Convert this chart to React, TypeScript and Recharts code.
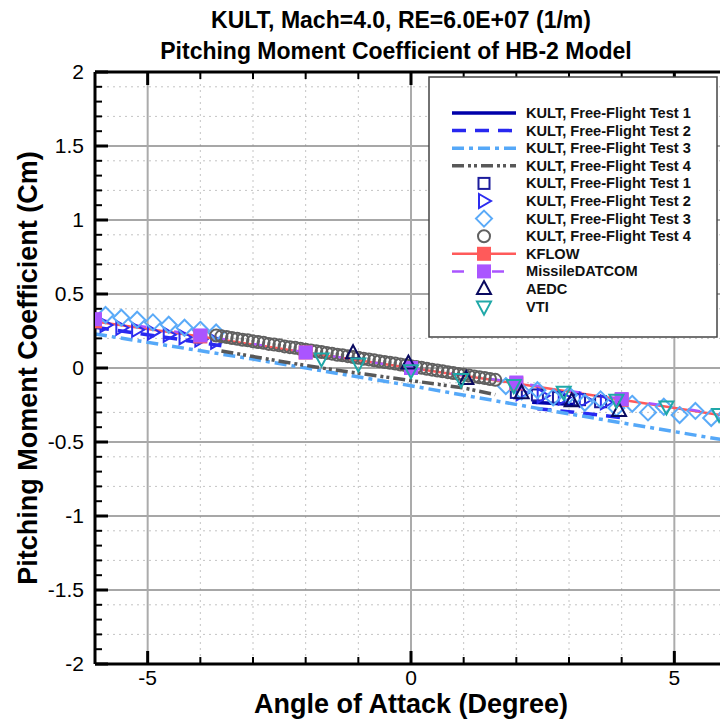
import {
  ComposedChart,
  Line,
  Scatter,
  XAxis,
  YAxis,
  CartesianGrid,
  ReferenceLine,
  Label,
} from "recharts";

type Pt = { x: number; y: number | null };

const FONT = '"Liberation Sans", Arial, Helvetica, sans-serif';

// axis ticks
const xTicks = [-5, 0, 5];
const yTicks = [-2, -1.5, -1, -0.5, 0, 0.5, 1, 1.5, 2];
const xAllTicks = [-6, -5, -4, -3, -2, -1, 0, 1, 2, 3, 4, 5, 6];
const yAllTicks: number[] = [];
for (let i = -20; i <= 20; i++) yAllTicks.push(i / 10);
const xMinor = xAllTicks.filter((v) => !xTicks.includes(v) && v > -6);
const yMinor = yAllTicks.filter((v) => Math.abs(v * 2 - Math.round(v * 2)) > 1e-6);

// free-flight fitted lines
const fft1: Pt[] = [
  { x: 2.3, y: -0.232 },
  { x: 3.1, y: -0.246 },
];
const fft2: Pt[] = [
  { x: -6.0, y: 0.275 },
  { x: -4.8, y: 0.215 },
  { x: -3.6, y: 0.15 },
  { x: 0, y: null },
  { x: 2.4, y: -0.275 },
  { x: 3.2, y: -0.303 },
  { x: 4.0, y: -0.335 },
];
const fft3: Pt[] = [
  { x: -6, y: 0.23 },
  { x: -3, y: 0.06 },
  { x: 0, y: -0.12 },
  { x: 3, y: -0.31 },
  { x: 6, y: -0.49 },
];
const fft4: Pt[] = [
  { x: -3.6, y: 0.115 },
  { x: -2.4, y: 0.04 },
  { x: -1.6, y: -0.005 },
  { x: 0, y: -0.085 },
  { x: 1.0, y: -0.135 },
  { x: 1.6, y: -0.18 },
];

// free-flight measured points
const test1: Pt[] = [
  { x: 2.0, y: -0.165 },
  { x: 2.4, y: -0.182 },
  { x: 2.8, y: -0.2 },
  { x: 3.2, y: -0.214 },
  { x: 3.6, y: -0.228 },
];
const test2: Pt[] = [
  { x: -5.8, y: 0.29 },
  { x: -5.5, y: 0.272 },
  { x: -5.2, y: 0.258 },
  { x: -4.9, y: 0.24 },
  { x: -4.6, y: 0.225 },
  { x: -4.3, y: 0.208 },
  { x: -4.0, y: 0.192 },
  { x: -3.7, y: 0.178 },
  { x: 2.1, y: -0.17 },
  { x: 2.5, y: -0.188 },
  { x: 2.9, y: -0.2 },
  { x: 3.3, y: -0.215 },
  { x: 3.7, y: -0.232 },
];
const test3: Pt[] = [
  { x: -5.8, y: 0.358 },
  { x: -5.5, y: 0.34 },
  { x: -5.2, y: 0.326 },
  { x: -4.9, y: 0.308 },
  { x: -4.6, y: 0.292 },
  { x: -4.3, y: 0.272 },
  { x: -4.0, y: 0.258 },
  { x: -3.7, y: 0.24 },
  { x: 1.8, y: -0.122 },
  { x: 2.1, y: -0.158 },
  { x: 2.4, y: -0.15 },
  { x: 2.7, y: -0.198 },
  { x: 3.0, y: -0.182 },
  { x: 3.3, y: -0.235 },
  { x: 3.6, y: -0.212 },
  { x: 3.9, y: -0.27 },
  { x: 4.2, y: -0.242 },
  { x: 4.5, y: -0.3 },
  { x: 4.8, y: -0.262 },
  { x: 5.1, y: -0.318 },
  { x: 5.4, y: -0.29 },
  { x: 5.7, y: -0.338 },
  { x: 6.0, y: -0.31 },
];
const test4: Pt[] = [
  { x: -3.7, y: 0.22 }, { x: -3.6, y: 0.214 }, { x: -3.5, y: 0.209 },
  { x: -3.4, y: 0.203 }, { x: -3.3, y: 0.198 }, { x: -3.2, y: 0.191 },
  { x: -3.1, y: 0.187 }, { x: -3.0, y: 0.18 }, { x: -2.9, y: 0.175 },
  { x: -2.8, y: 0.17 }, { x: -2.7, y: 0.163 }, { x: -2.6, y: 0.158 },
  { x: -2.5, y: 0.153 }, { x: -2.4, y: 0.146 }, { x: -2.3, y: 0.141 },
  { x: -2.2, y: 0.136 }, { x: -2.1, y: 0.13 }, { x: -2.0, y: 0.124 },
  { x: -1.9, y: 0.119 }, { x: -1.8, y: 0.113 }, { x: -1.7, y: 0.108 },
  { x: -1.6, y: 0.102 }, { x: -1.5, y: 0.097 }, { x: -1.4, y: 0.09 },
  { x: -1.3, y: 0.086 }, { x: -1.2, y: 0.08 }, { x: -1.1, y: 0.074 },
  { x: -1.0, y: 0.069 }, { x: -0.9, y: 0.063 }, { x: -0.8, y: 0.058 },
  { x: -0.7, y: 0.052 }, { x: -0.6, y: 0.046 }, { x: -0.5, y: 0.041 },
  { x: -0.4, y: 0.035 }, { x: -0.3, y: 0.03 }, { x: -0.2, y: 0.024 },
  { x: -0.1, y: 0.018 }, { x: 0.0, y: 0.012 }, { x: 0.1, y: 0.007 },
  { x: 0.2, y: 0.001 }, { x: 0.3, y: -0.005 }, { x: 0.4, y: -0.011 },
  { x: 0.5, y: -0.017 }, { x: 0.6, y: -0.022 }, { x: 0.7, y: -0.028 },
  { x: 0.8, y: -0.034 }, { x: 0.9, y: -0.04 }, { x: 1.0, y: -0.045 },
  { x: 1.1, y: -0.051 }, { x: 1.2, y: -0.057 }, { x: 1.3, y: -0.063 },
  { x: 1.4, y: -0.068 }, { x: 1.5, y: -0.074 }, { x: 1.6, y: -0.08 },
];

// CFD / semi-empirical / other facilities
const kflow: Pt[] = [
  { x: -6, y: 0.315 },
  { x: -4, y: 0.213 },
  { x: -2, y: 0.105 },
  { x: 0, y: 0.0 },
  { x: 2, y: -0.105 },
  { x: 4, y: -0.215 },
  { x: 6, y: -0.325 },
];
const datcom: Pt[] = [
  { x: -6, y: 0.33 },
  { x: -4, y: 0.22 },
  { x: -2, y: 0.105 },
  { x: 0, y: 0.0 },
  { x: 2, y: -0.098 },
  { x: 4, y: -0.21 },
  { x: 6, y: -0.32 },
];
const aedc: Pt[] = [
  { x: -1.1, y: 0.1 },
  { x: -0.05, y: 0.03 },
  { x: 1.05, y: -0.075 },
  { x: 2.1, y: -0.17 },
  { x: 3.05, y: -0.225 },
  { x: 3.95, y: -0.29 },
];
const vti: Pt[] = [
  { x: -1.7, y: 0.065 },
  { x: -1.0, y: 0.03 },
  { x: 0.0, y: -0.015 },
  { x: 0.95, y: -0.075 },
  { x: 1.95, y: -0.115 },
  { x: 2.9, y: -0.16 },
  { x: 3.9, y: -0.215 },
  { x: 4.85, y: -0.26 },
  { x: 5.85, y: -0.31 },
];

const C = {
  fft1: "#0000aa",
  fft2: "#2828f0",
  fft3: "#55a8f8",
  fft4: "#585858",
  sq: "#1c1c9c",
  tri: "#2c2cf0",
  dia: "#5aaaf8",
  cir: "#606060",
  kflow: "#ff5a5a",
  datcom: "#aa55ff",
  aedc: "#0a0a60",
  vti: "#20a8a8",
};

type Kind = "square" | "triRight" | "diamond" | "circle" | "squareFill" | "triUp" | "triDown";

function Marker({ kind, cx, cy, color }: { kind: Kind; cx: number; cy: number; color: string }) {
  if (cx == null || cy == null) return <g />;
  const sw = 2;
  switch (kind) {
    case "square":
      return <rect x={cx - 5.5} y={cy - 5.5} width={11} height={11} fill="none" stroke={color} strokeWidth={sw} />;
    case "squareFill":
      return <rect x={cx - 7} y={cy - 7} width={14} height={14} fill={color} stroke="none" />;
    case "triRight":
      return (
        <polygon
          points={`${cx - 5},${cy - 7} ${cx + 7},${cy} ${cx - 5},${cy + 7}`}
          fill="none"
          stroke={color}
          strokeWidth={sw}
        />
      );
    case "diamond":
      return (
        <polygon
          points={`${cx},${cy - 8} ${cx + 8},${cy} ${cx},${cy + 8} ${cx - 8},${cy}`}
          fill="none"
          stroke={color}
          strokeWidth={sw}
        />
      );
    case "circle":
      return <circle cx={cx} cy={cy} r={6} fill="none" stroke={color} strokeWidth={sw} />;
    case "triUp":
      return (
        <polygon
          points={`${cx},${cy - 8} ${cx + 7},${cy + 5} ${cx - 7},${cy + 5}`}
          fill="none"
          stroke={color}
          strokeWidth={sw}
        />
      );
    case "triDown":
      return (
        <polygon
          points={`${cx - 7},${cy - 5} ${cx + 7},${cy - 5} ${cx},${cy + 8}`}
          fill="none"
          stroke={color}
          strokeWidth={sw}
        />
      );
  }
  return <g />;
}

const legendItems: { name: string; color: string; dash?: string; width?: number; kind?: Kind; lineColor?: string }[] = [
  { name: "KULT, Free-Flight Test 1", color: C.fft1, width: 3.5 },
  { name: "KULT, Free-Flight Test 2", color: C.fft2, dash: "14 9", width: 3.5 },
  { name: "KULT, Free-Flight Test 3", color: C.fft3, dash: "12 5 4 5", width: 3.5 },
  { name: "KULT, Free-Flight Test 4", color: C.fft4, dash: "12 4 3 3 3 4", width: 3.5 },
  { name: "KULT, Free-Flight Test 1", color: C.sq, kind: "square" },
  { name: "KULT, Free-Flight Test 2", color: C.tri, kind: "triRight" },
  { name: "KULT, Free-Flight Test 3", color: C.dia, kind: "diamond" },
  { name: "KULT, Free-Flight Test 4", color: C.cir, kind: "circle" },
  { name: "KFLOW", color: C.kflow, kind: "squareFill", lineColor: C.kflow, width: 2.5 },
  { name: "MissileDATCOM", color: C.datcom, kind: "squareFill", lineColor: C.datcom, dash: "12 28", width: 2.5 },
  { name: "AEDC", color: C.aedc, kind: "triUp" },
  { name: "VTI", color: C.vti, kind: "triDown" },
];

function LegendBox() {
  return (
    <svg
      width={290}
      height={262}
      style={{ position: "absolute", left: 428, top: 76, overflow: "visible" }}
    >
      <rect x={1} y={1} width={288} height={260} fill="#fff" stroke="#444" strokeWidth={1.5} />
      {legendItems.map((it, i) => {
        const y = 37 + i * 17.6;
        return (
          <g key={i}>
            {it.kind == null && (
              <line x1={24} x2={88} y1={y} y2={y} stroke={it.color} strokeWidth={it.width} strokeDasharray={it.dash} />
            )}
            {it.kind != null && it.lineColor && (
              <line x1={24} x2={88} y1={y} y2={y} stroke={it.lineColor} strokeWidth={it.width} strokeDasharray={it.dash} />
            )}
            {it.kind != null && <Marker kind={it.kind} cx={56} cy={y} color={it.color} />}
            <text x={98} y={y + 5} fontFamily={FONT} fontWeight="bold" fontSize={14.6} fill="#111">
              {it.name}
            </text>
          </g>
        );
      })}
    </svg>
  );
}

const scatterSeries: { data: Pt[]; kind: Kind; color: string }[] = [
  { data: test1, kind: "square", color: C.sq },
  { data: test2, kind: "triRight", color: C.tri },
  { data: test3, kind: "diamond", color: C.dia },
  { data: test4, kind: "circle", color: C.cir },
];

export default function App() {
  const yTickLen = (v: number) => (Math.abs(v * 2 - Math.round(v * 2)) < 1e-6 ? 13 / 52.67 : 7 / 52.67);
  const xTickLen = (v: number) => (xTicks.includes(v) ? 13 / 148 : 7 / 148);
  return (
    <div
      style={{
        position: "fixed",
        left: 0,
        top: 0,
        width: 720,
        height: 724,
        overflow: "hidden",
        background: "#fff",
        fontFamily: FONT,
      }}
    >
      <svg width={720} height={70} style={{ position: "absolute", left: 0, top: 0 }}>
        <text x={401} y={28} textAnchor="middle" fontFamily={FONT} fontWeight="bold" fontSize={23} fill="#000">
          KULT, Mach=4.0, RE=6.0E+07 (1/m)
        </text>
        <text x={396} y={59} textAnchor="middle" fontFamily={FONT} fontWeight="bold" fontSize={23} fill="#000">
          Pitching Moment Coefficient of HB-2 Model
        </text>
      </svg>
      <div style={{ position: "absolute", left: 0, top: 0 }}>
        <ComposedChart width={730} height={724} margin={{ top: 72, right: 3, bottom: 0, left: 0 }}>
          <CartesianGrid
            horizontalValues={yMinor}
            verticalValues={xMinor}
            stroke="#c4c4c4"
            strokeDasharray="2 4"
            strokeWidth={1}
          />
          <CartesianGrid vertical={false} horizontalValues={yTicks} stroke="#8a8a8a" strokeWidth={1.5} />
          <CartesianGrid horizontal={false} verticalValues={xTicks} stroke="#ababab" strokeWidth={2} />
          <XAxis
            type="number"
            dataKey="x"
            domain={[-6, 6]}
            ticks={xTicks}
            allowDataOverflow
            height={60}
            tickLine={false}
            tickSize={0}
            tickMargin={6}
            axisLine={{ stroke: "#000", strokeWidth: 3 }}
            tick={{ fontSize: 21, fill: "#000", fontFamily: FONT }}
          >
            <Label
              content={({ viewBox }: any) => (
                <text
                  x={viewBox.x + viewBox.width / 2}
                  y={viewBox.y + 49}
                  textAnchor="middle"
                  fontFamily={FONT}
                  fontWeight="bold"
                  fontSize={27}
                  fill="#000"
                >
                  Angle of Attack (Degree)
                </text>
              )}
            />
          </XAxis>
          <YAxis
            type="number"
            dataKey="y"
            domain={[-2, 2]}
            ticks={yTicks}
            allowDataOverflow
            width={95}
            tickLine={false}
            tickSize={0}
            tickMargin={11}
            axisLine={{ stroke: "#000", strokeWidth: 3 }}
            tick={{ fontSize: 21, fill: "#000", fontFamily: FONT }}
          >
            <Label
              content={({ viewBox }: any) => {
                const cy = viewBox.y + viewBox.height / 2;
                return (
                  <text
                    x={37}
                    y={cy}
                    transform={`rotate(-90, 37, ${cy})`}
                    textAnchor="middle"
                    fontFamily={FONT}
                    fontWeight="bold"
                    fontSize={27}
                    fill="#000"
                  >
                    Pitching Moment Coefficient (Cm)
                  </text>
                );
              }}
            />
          </YAxis>

          <ReferenceLine y={2} stroke="#000" strokeWidth={3} />
          {yAllTicks.map((v) => (
            <ReferenceLine
              key={`yt${v}`}
              segment={[
                { x: -6, y: v },
                { x: -6 + yTickLen(v), y: v },
              ]}
              stroke="#000"
              strokeWidth={Math.abs(v * 2 - Math.round(v * 2)) < 1e-6 ? 3 : 2}
            />
          ))}
          {xAllTicks.map((v) => (
            <ReferenceLine
              key={`xb${v}`}
              segment={[
                { x: v, y: -2 },
                { x: v, y: -2 + xTickLen(v) },
              ]}
              stroke="#000"
              strokeWidth={xTicks.includes(v) ? 3 : 2}
            />
          ))}
          {xAllTicks.map((v) => (
            <ReferenceLine
              key={`xt${v}`}
              segment={[
                { x: v, y: 2 },
                { x: v, y: 2 - xTickLen(v) },
              ]}
              stroke="#000"
              strokeWidth={xTicks.includes(v) ? 3 : 2}
            />
          ))}

          <Line data={fft1} dataKey="y" stroke={C.fft1} strokeWidth={3.5} dot={false} activeDot={false} isAnimationActive={false} />
          <Line data={fft2} dataKey="y" stroke={C.fft2} strokeWidth={3.5} strokeDasharray="14 9" dot={false} activeDot={false} isAnimationActive={false} />
          <Line data={fft3} dataKey="y" stroke={C.fft3} strokeWidth={3.5} strokeDasharray="12 5 4 5" dot={false} activeDot={false} isAnimationActive={false} />
          <Line data={fft4} dataKey="y" stroke={C.fft4} strokeWidth={3.5} strokeDasharray="12 4 3 3 3 4" dot={false} activeDot={false} isAnimationActive={false} />

          {scatterSeries.map((s, i) => (
            <Scatter
              key={`sc${i}`}
              data={s.data}
              dataKey="y"
              isAnimationActive={false}
              shape={(p: any) => <Marker kind={s.kind} cx={p.cx} cy={p.cy} color={s.color} />}
            />
          ))}

          <Line
            data={kflow}
            dataKey="y"
            stroke={C.kflow}
            strokeWidth={2.5}
            dot={(p: any) => <Marker key={`kf${p.index}`} kind="squareFill" cx={p.cx} cy={p.cy} color={C.kflow} />}
            activeDot={false}
            isAnimationActive={false}
          />
          <Line
            data={datcom}
            dataKey="y"
            stroke={C.datcom}
            strokeWidth={2.5}
            strokeDasharray="12 28"
            dot={(p: any) => <Marker key={`dc${p.index}`} kind="squareFill" cx={p.cx} cy={p.cy} color={C.datcom} />}
            activeDot={false}
            isAnimationActive={false}
          />
          <Scatter
            data={aedc}
            dataKey="y"
            isAnimationActive={false}
            shape={(p: any) => <Marker kind="triUp" cx={p.cx} cy={p.cy} color={C.aedc} />}
          />
          <Scatter
            data={vti}
            dataKey="y"
            isAnimationActive={false}
            shape={(p: any) => <Marker kind="triDown" cx={p.cx} cy={p.cy} color={C.vti} />}
          />
        </ComposedChart>
      </div>
      <LegendBox />
    </div>
  );
}
